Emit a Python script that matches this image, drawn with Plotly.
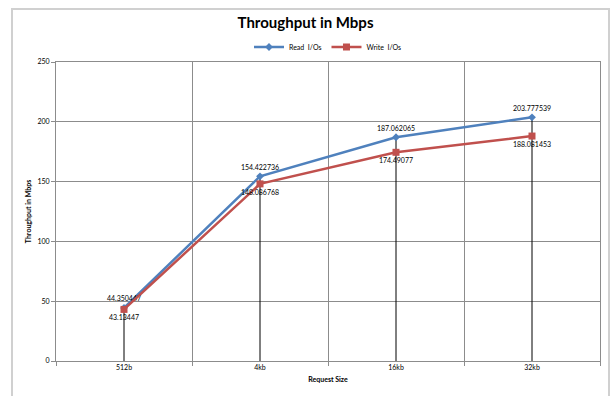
import plotly.graph_objects as go

# Throughput per request size
categories = ["512b", "4kb", "16kb", "32kb"]
read_mbps = [44.350447, 154.422736, 187.062065, 203.777539]
write_mbps = [43.13447, 148.086768, 174.49077, 188.081453]
y_ticks = [0, 50, 100, 150, 200, 250]

BLUE = "#4F81BD"
RED = "#C0504D"
GRID = "#8C8C8C"
FONT = "Lato"

fig = go.Figure()

# Drop lines from the highest point of each category down to the axis
for cat, r, w in zip(categories, read_mbps, write_mbps):
    fig.add_trace(go.Scatter(
        x=[cat, cat], y=[0, max(r, w)], mode="lines",
        line=dict(color="#000000", width=1),
        showlegend=False, hoverinfo="skip",
    ))

fig.add_trace(go.Scatter(
    x=categories, y=read_mbps, name="Read  I/Os",
    mode="lines+markers+text",
    line=dict(color=BLUE, width=2.5),
    marker=dict(symbol="diamond", size=6, color=BLUE),
    text=[str(v) for v in read_mbps], textposition="top center",
    textfont=dict(family=FONT, size=7, color="#000000"),
))
fig.add_trace(go.Scatter(
    x=categories, y=write_mbps, name="Write  I/Os",
    mode="lines+markers+text",
    line=dict(color=RED, width=2.5),
    marker=dict(symbol="square", size=7, color=RED),
    text=[str(v) for v in write_mbps], textposition="bottom center",
    textfont=dict(family=FONT, size=7, color="#000000"),
))

L, R, T, B = 56, 11, 62, 35
W, H = 611, 396
pw, ph = W - L - R, H - T - B

fig.update_layout(
    width=W, height=H,
    margin=dict(l=L, r=R, t=T, b=B),
    paper_bgcolor="white", plot_bgcolor="white",
    font=dict(family=FONT, size=7, color="#000000"),
    title=dict(text="<b>Throughput in Mbps</b>", x=0.5, xanchor="center",
               y=1 - 23 / H, yanchor="middle",
               font=dict(family=FONT, size=15, color="#000000")),
    legend=dict(orientation="h", x=0.5, xanchor="center",
                y=1 + (T - 47) / ph, yanchor="middle",
                font=dict(family=FONT, size=7), itemwidth=30,
                bgcolor="rgba(0,0,0,0)"),
    showlegend=True,
)

fig.update_xaxes(
    type="category", categoryorder="array", categoryarray=categories,
    tickson="boundaries", ticks="outside", ticklen=4, tickcolor=GRID,
    showgrid=True, gridcolor=GRID, gridwidth=1,
    showline=True, linecolor=GRID, linewidth=1, mirror=True,
    tickfont=dict(family=FONT, size=7, color="#000000"),
    title=dict(text="<b>Request Size</b>", standoff=6,
               font=dict(family=FONT, size=7, color="#000000")),
    range=[-0.5, 3.5],
)
fig.update_yaxes(
    range=[0, 250], tickvals=y_ticks, ticks="outside", ticklen=4, tickcolor=GRID,
    showgrid=True, gridcolor=GRID, gridwidth=1, zeroline=False,
    showline=True, linecolor=GRID, linewidth=1, mirror=True,
    tickfont=dict(family=FONT, size=7, color="#000000"),
    title=dict(text="<b>Throughput in Mbps</b>", standoff=4,
               font=dict(family=FONT, size=7, color="#000000")),
)

# Chart-area frame
fig.add_shape(
    type="rect", xref="paper", yref="paper",
    x0=(12 - L) / pw, x1=(609 - L) / pw,
    y0=-(H - 361 + 20) / ph, y1=(361 - 9) / ph,
    line=dict(color="#D0D0D0", width=2), fillcolor="rgba(0,0,0,0)",
    layer="below",
)

fig.write_html("out.html")
